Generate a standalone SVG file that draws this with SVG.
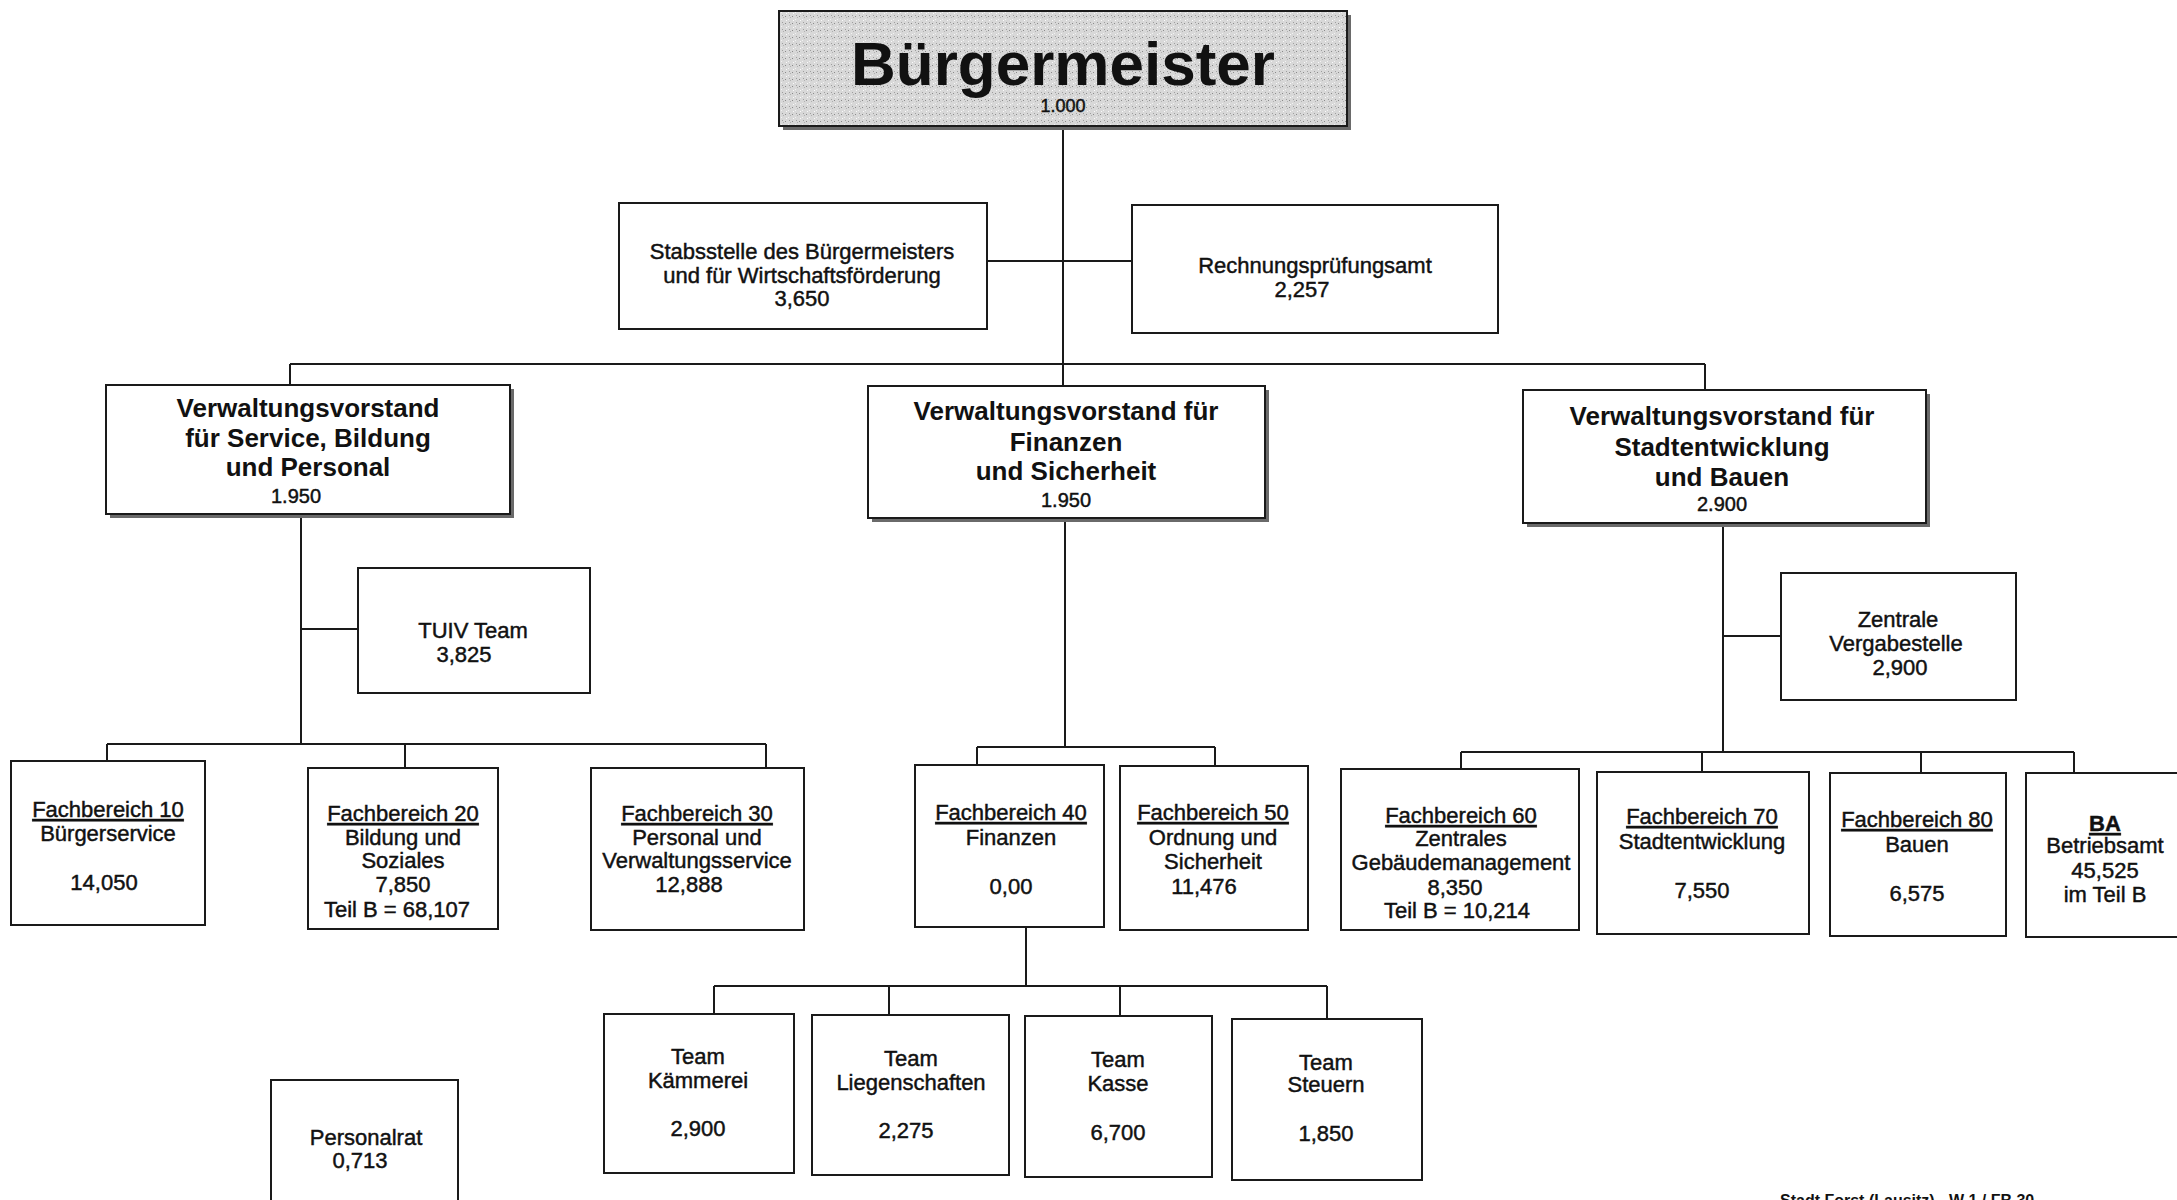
<svg xmlns="http://www.w3.org/2000/svg" width="2177" height="1200" viewBox="0 0 2177 1200">
<defs>
<style>
.box{fill:#fff;stroke:#1a1a1a;stroke-width:2}
.sh{fill:#6a6a6a}
.ln{stroke:#1a1a1a;stroke-width:2;fill:none}
.t{font-family:"Liberation Sans",Arial,sans-serif;font-size:22px;fill:#111;text-anchor:middle;stroke:#111;stroke-width:0.45}
.tb{font-weight:bold;font-size:26px;stroke-width:0}
.num{font-size:20px}
.u{text-decoration:underline}
</style>
<pattern id="noise" width="7" height="7" patternUnits="userSpaceOnUse">
<rect width="7" height="7" fill="#d8d8d8"/>
<rect x="1" y="2" width="1" height="1" fill="#8a8a8a"/>
<rect x="4" y="5" width="1" height="1" fill="#f2f2f2"/>
<rect x="5" y="1" width="1" height="1" fill="#9e9e9e"/>
<rect x="2" y="6" width="1" height="1" fill="#fafafa"/>
<rect x="6" y="3" width="1" height="1" fill="#b0b0b0"/>
</pattern>
</defs>
<rect width="2177" height="1200" fill="#fff"/>

<g id="connectors">
<path class="ln" d="M1063 126V386M987 261H1132M290 364H1705M290 364V385M1705 364V390"/>
<path class="ln" d="M301 514V744M301 629H358M107 744H766M107 744V761M405 744V768M766 744V768"/>
<path class="ln" d="M1065 518V747M977 747H1215M977 747V765M1215 747V766"/>
<path class="ln" d="M1026 927V986M714 986H1327M714 986V1014M889 986V1015M1120 986V1016M1327 986V1019"/>
<path class="ln" d="M1723 523V752M1723 636H1781M1461 752H2074M1461 752V769M1702 752V772M1921 752V773M2074 752V773"/>
</g>

<g id="buergermeister">
<rect class="sh" x="783" y="15" width="568" height="115"/>
<rect x="779" y="11" width="568" height="115" fill="url(#noise)" stroke="#1a1a1a" stroke-width="2"/>
<text class="t" x="1063" y="85" style="font-weight:bold;font-size:62px;stroke-width:0">Bürgermeister</text>
<text class="t num" x="1063" y="112" style="font-size:18px">1.000</text>
</g>

<g id="stabsstelle">
<rect class="box" x="619" y="203" width="368" height="126"/>
<text class="t" x="802" y="259">Stabsstelle des Bürgermeisters</text>
<text class="t" x="802" y="283">und für Wirtschaftsförderung</text>
<text class="t" x="802" y="306">3,650</text>
</g>

<g id="rpa">
<rect class="box" x="1132" y="205" width="366" height="128"/>
<text class="t" x="1315" y="273">Rechnungsprüfungsamt</text>
<text class="t" x="1302" y="297">2,257</text>
</g>

<g id="vv-service">
<rect class="sh" x="110" y="389" width="404" height="129"/>
<rect class="box" x="106" y="385" width="404" height="129"/>
<text class="t tb" x="308" y="417">Verwaltungsvorstand</text>
<text class="t tb" x="308" y="447">für Service, Bildung</text>
<text class="t tb" x="308" y="476">und Personal</text>
<text class="t num" x="296" y="503">1.950</text>
</g>

<g id="vv-finanzen">
<rect class="sh" x="872" y="390" width="397" height="132"/>
<rect class="box" x="868" y="386" width="397" height="132"/>
<text class="t tb" x="1066" y="420">Verwaltungsvorstand für</text>
<text class="t tb" x="1066" y="451">Finanzen</text>
<text class="t tb" x="1066" y="480">und Sicherheit</text>
<text class="t num" x="1066" y="507">1.950</text>
</g>

<g id="vv-stadt">
<rect class="sh" x="1527" y="394" width="403" height="133"/>
<rect class="box" x="1523" y="390" width="403" height="133"/>
<text class="t tb" x="1722" y="425">Verwaltungsvorstand für</text>
<text class="t tb" x="1722" y="456">Stadtentwicklung</text>
<text class="t tb" x="1722" y="486">und Bauen</text>
<text class="t num" x="1722" y="511">2.900</text>
</g>

<g id="tuiv">
<rect class="box" x="358" y="568" width="232" height="125"/>
<text class="t" x="473" y="638">TUIV Team</text>
<text class="t" x="464" y="662">3,825</text>
</g>

<g id="zvs">
<rect class="box" x="1781" y="573" width="235" height="127"/>
<text class="t" x="1898" y="627">Zentrale</text>
<text class="t" x="1896" y="651">Vergabestelle</text>
<text class="t" x="1900" y="675">2,900</text>
</g>

<g id="fb10">
<rect class="box" x="11" y="761" width="194" height="164"/>
<text class="t u" x="108" y="817">Fachbereich 10</text>
<text class="t" x="108" y="841">Bürgerservice</text>
<text class="t" x="104" y="890">14,050</text>
</g>

<g id="fb20">
<rect class="box" x="308" y="768" width="190" height="161"/>
<text class="t u" x="403" y="821">Fachbereich 20</text>
<text class="t" x="403" y="845">Bildung und</text>
<text class="t" x="403" y="868">Soziales</text>
<text class="t" x="403" y="892">7,850</text>
<text class="t" x="397" y="917">Teil B = 68,107</text>
</g>

<g id="fb30">
<rect class="box" x="591" y="768" width="213" height="162"/>
<text class="t u" x="697" y="821">Fachbereich 30</text>
<text class="t" x="697" y="845">Personal und</text>
<text class="t" x="697" y="868">Verwaltungsservice</text>
<text class="t" x="689" y="892">12,888</text>
</g>

<g id="fb40">
<rect class="box" x="915" y="765" width="189" height="162"/>
<text class="t u" x="1011" y="820">Fachbereich 40</text>
<text class="t" x="1011" y="845">Finanzen</text>
<text class="t" x="1011" y="894">0,00</text>
</g>

<g id="fb50">
<rect class="box" x="1120" y="766" width="188" height="164"/>
<text class="t u" x="1213" y="820">Fachbereich 50</text>
<text class="t" x="1213" y="845">Ordnung und</text>
<text class="t" x="1213" y="869">Sicherheit</text>
<text class="t" x="1204" y="894">11,476</text>
</g>

<g id="fb60">
<rect class="box" x="1341" y="769" width="238" height="161"/>
<text class="t u" x="1461" y="823">Fachbereich 60</text>
<text class="t" x="1461" y="846">Zentrales</text>
<text class="t" x="1461" y="870">Gebäudemanagement</text>
<text class="t" x="1455" y="895">8,350</text>
<text class="t" x="1457" y="918">Teil B = 10,214</text>
</g>

<g id="fb70">
<rect class="box" x="1597" y="772" width="212" height="162"/>
<text class="t u" x="1702" y="824">Fachbereich 70</text>
<text class="t" x="1702" y="849">Stadtentwicklung</text>
<text class="t" x="1702" y="898">7,550</text>
</g>

<g id="fb80">
<rect class="box" x="1830" y="773" width="176" height="163"/>
<text class="t u" x="1917" y="827">Fachbereich 80</text>
<text class="t" x="1917" y="852">Bauen</text>
<text class="t" x="1917" y="901">6,575</text>
</g>

<g id="ba">
<rect class="box" x="2026" y="773" width="200" height="164"/>
<text class="t u" x="2105" y="831" style="font-weight:bold">BA</text>
<text class="t" x="2105" y="853">Betriebsamt</text>
<text class="t" x="2105" y="878">45,525</text>
<text class="t" x="2105" y="902">im Teil B</text>
</g>

<g id="team-kaemmerei">
<rect class="box" x="604" y="1014" width="190" height="159"/>
<text class="t" x="698" y="1064">Team</text>
<text class="t" x="698" y="1088">Kämmerei</text>
<text class="t" x="698" y="1136">2,900</text>
</g>

<g id="team-liegenschaften">
<rect class="box" x="812" y="1015" width="197" height="160"/>
<text class="t" x="911" y="1066">Team</text>
<text class="t" x="911" y="1090">Liegenschaften</text>
<text class="t" x="906" y="1138">2,275</text>
</g>

<g id="team-kasse">
<rect class="box" x="1025" y="1016" width="187" height="161"/>
<text class="t" x="1118" y="1067">Team</text>
<text class="t" x="1118" y="1091">Kasse</text>
<text class="t" x="1118" y="1140">6,700</text>
</g>

<g id="team-steuern">
<rect class="box" x="1232" y="1019" width="190" height="161"/>
<text class="t" x="1326" y="1070">Team</text>
<text class="t" x="1326" y="1092">Steuern</text>
<text class="t" x="1326" y="1141">1,850</text>
</g>

<g id="personalrat">
<rect class="box" x="271" y="1080" width="187" height="150"/>
<text class="t" x="366" y="1145">Personalrat</text>
<text class="t" x="360" y="1168">0,713</text>
</g>

<text class="t" x="1780" y="1206" style="text-anchor:start;font-size:16px;font-weight:bold;stroke-width:0">Stadt Forst (Lausitz) - W 1 / FB 30</text>
</svg>
